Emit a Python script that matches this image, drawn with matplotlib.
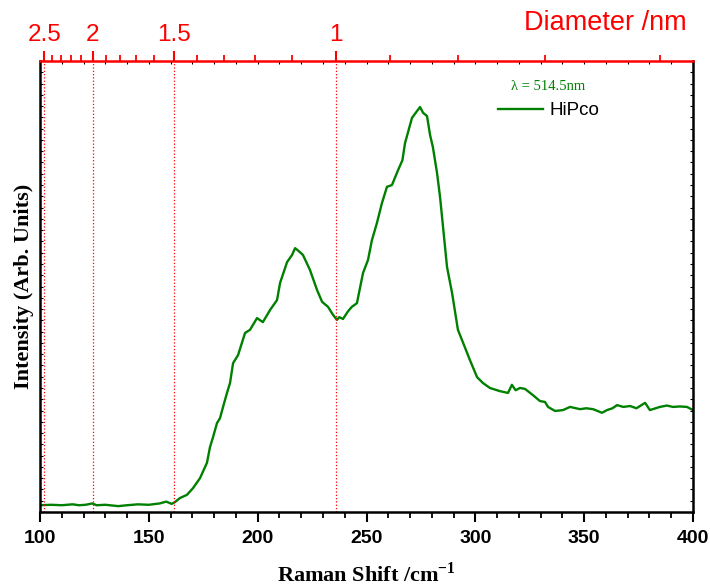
import numpy as np
import matplotlib
matplotlib.use('Agg')
import matplotlib.pyplot as plt
from matplotlib.ticker import MultipleLocator, FixedLocator, NullFormatter

# Raman-Spektrum HiPco (RBM-Bereich)
shift = [100, 105, 110, 115, 118, 121, 124, 126, 130, 136, 140, 145, 150, 155,
         158, 160.5, 162, 164.3, 167.5, 170.3, 173.5, 176.7, 178.1, 179.5, 181.3,
         182.7, 184.1, 185.9, 187.3, 188.7, 191.0, 194.2, 196.5, 199.7, 202.4,
         205.7, 208.9, 210.3, 213.5, 215.8, 217.2, 218.5, 220.8, 224.0, 227.3,
         229.6, 232.3, 234.5, 236.4, 237.5, 239.2, 241.5, 243.3, 245.6, 248.4,
         250.7, 252.5, 254.8, 257.1, 259.4, 261.7, 264.5, 266.5, 267.7, 270.9,
         274.6, 276.0, 277.8, 279.2, 280.5, 282.4, 283.8, 287.0, 289.3, 292.0,
         296.2, 297.5, 300.8, 303.5, 306.7, 311.3, 315.0, 316.8, 318.5, 320.5,
         322.8, 326.5, 329.7, 332.0, 333.4, 336.6, 340.3, 343.5, 348.1, 351,
         354.1, 358.2, 360.5, 363, 365.1, 368, 371.1, 374, 378.0, 380.2, 384.8,
         388, 390.8, 394, 397.2, 400]
intensity = [1.5, 1.6, 1.5, 1.7, 1.5, 1.6, 1.9, 1.5, 1.6, 1.3, 1.5, 1.7, 1.6, 1.9,
             2.3, 1.8, 2.2, 3.1, 3.8, 5.3, 7.5, 10.9, 14.4, 16.6, 19.7,
             20.8, 23.3, 26.4, 28.6, 33.0, 34.8, 39.7, 40.4, 43.0, 42.1,
             44.8, 47.0, 50.8, 55.4, 57.0, 58.5, 58.0, 57.0, 53.7, 49.2,
             46.6, 45.5, 43.8, 42.6, 43.2, 42.8, 44.5, 45.5, 46.3, 53.0,
             55.9, 60.3, 64.1, 68.5, 72.1, 72.5, 75.8, 78.0, 81.8, 87.4,
             89.8, 88.5, 87.8, 83.6, 80.9, 75.2, 69.8, 54.3, 48.6, 40.4,
             35.3, 33.7, 29.9, 28.6, 27.5, 26.8, 26.4, 28.2, 27.0, 27.5,
             27.3, 25.9, 24.6, 24.4, 23.3, 22.4, 22.6, 23.3, 22.8, 23.0,
             22.8, 22.0, 22.6, 23.0, 23.7, 23.3, 23.5, 23.0, 24.2, 22.6, 23.3,
             23.6, 23.3, 23.4, 23.3, 22.6]

# Durchmesser-Achse oben: omega = 223.5/d + 12.5
diam_major = [2.5, 2.0, 1.5, 1.0]
diam_labels = ['2.5', '2', '1.5', '1']
diam_minor = [2.4, 2.3, 2.2, 2.1, 1.9, 1.8, 1.7, 1.6, 1.4, 1.3, 1.2, 1.1,
              0.9, 0.8, 0.7, 0.6]


def d_to_shift(d):
    return 223.5 / np.asarray(d) + 12.5


plt.rcParams['font.family'] = 'Liberation Sans'
plt.rcParams['mathtext.fontset'] = 'custom'
plt.rcParams['mathtext.rm'] = 'Liberation Serif'
plt.rcParams['mathtext.bf'] = 'Liberation Serif:bold'

fig, ax = plt.subplots(figsize=(7.1, 5.88), dpi=100)
fig.subplots_adjust(left=40/710, right=693/710, top=1-61/588, bottom=1-512/588)

ax.plot(shift, intensity, color='#008000', lw=1.7, label='HiPco')
for xv in d_to_shift(diam_major):
    ax.axvline(xv, color='red', ls=':', lw=0.9)

ax.set_xlim(100, 400)
ax.set_ylim(0, 100)

# untere Achse
ax.xaxis.set_major_locator(MultipleLocator(50))
ax.xaxis.set_minor_locator(MultipleLocator(10))
ax.tick_params(axis='x', which='major', direction='out', length=7, width=1.5,
               pad=6, labelsize=14)
ax.tick_params(axis='x', which='minor', direction='out', length=4, width=1.3)
for lab in ax.get_xticklabels():
    lab.set_fontweight('bold')

ax.yaxis.set_major_locator(MultipleLocator(2.5))
ax.tick_params(axis='y', direction='in', length=2.5, width=0.8,
               left=True, right=True, labelleft=False)

for s in ['left', 'right', 'bottom']:
    ax.spines[s].set_linewidth(1.8)
ax.spines['top'].set_visible(False)

# kleine Innen-Ticks oben
sec = ax.secondary_xaxis('top')
sec.xaxis.set_major_locator(MultipleLocator(10))
sec.xaxis.set_major_formatter(NullFormatter())
sec.tick_params(direction='in', length=2.5, width=0.8, color='black')
for s in sec.spines.values():
    s.set_visible(False)

# rote Durchmesser-Achse
ax2 = ax.twiny()
ax2.set_xlim(ax.get_xlim())
ax2.xaxis.set_major_locator(FixedLocator(d_to_shift(diam_major)))
ax2.xaxis.set_minor_locator(FixedLocator(d_to_shift(diam_minor)))
ax2.set_xticklabels(diam_labels)
ax2.tick_params(axis='x', which='major', direction='out', length=7, width=1.5,
                colors='red', labelsize=17.5, pad=3.5)
ax2.tick_params(axis='x', which='minor', direction='out', length=4, width=1.3,
                colors='red')
for s in ['left', 'right', 'bottom']:
    ax2.spines[s].set_visible(False)
ax2.spines['top'].set_color('red')
ax2.spines['top'].set_linewidth(1.8)

fig.text(687/710, 1-30/588, 'Diameter /nm', color='red', fontsize=19.5,
         ha='right', va='baseline')

ax.set_xlabel(r'Raman Shift /cm$^{\mathbf{-1}}$', family='Liberation Serif',
              weight='bold', fontsize=16, labelpad=11)
ax.set_ylabel('Intensity (Arb. Units)', family='Liberation Serif',
              weight='bold', fontsize=16, labelpad=4)

leg = ax.legend(title='λ = 514.5nm', loc='upper left',
                bbox_to_anchor=(0.701, 0.958), frameon=False,
                borderaxespad=0, borderpad=0,
                prop={'family': 'Liberation Sans', 'size': 13.5},
                title_fontproperties={'family': 'Liberation Serif', 'size': 10.5},
                handlelength=2.4, handletextpad=0.35)
leg.get_title().set_color('#008000')

fig.savefig('out.png', dpi=100)
